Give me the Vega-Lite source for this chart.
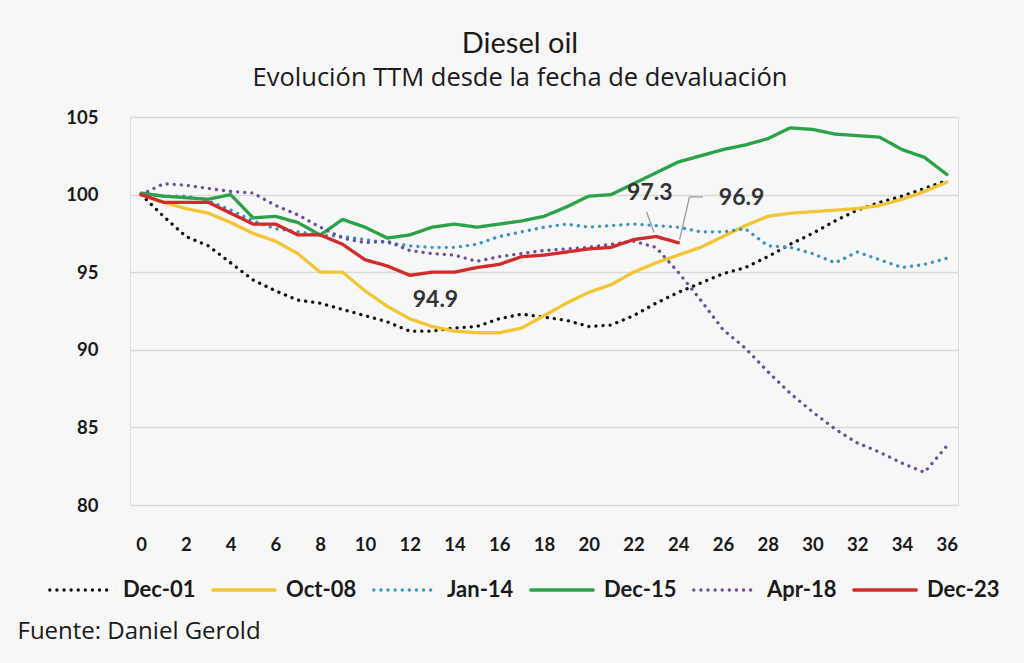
{
  "$schema": "https://vega.github.io/schema/vega-lite/v6.json",
  "width": 828,
  "height": 388,
  "autosize": {"type": "none"},
  "padding": {"left": 130, "top": 117, "right": 66, "bottom": 158},
  "background": "#f7f7f7",
  "title": {
    "text": "Diesel oil",
    "subtitle": "Evolución TTM desde la fecha de devaluación",
    "anchor": "middle",
    "frame": "group",
    "dx": -24,
    "offset": 17,
    "font": "Lato",
    "fontSize": 29,
    "fontWeight": "normal",
    "color": "#1a1a1a",
    "subtitleFont": "Open Sans",
    "subtitleFontSize": 25.5,
    "subtitleColor": "#1a1a1a",
    "subtitlePadding": 7
  },
  "datasets": {
    "series": [
      {"m": 0, "Dec-01": 100, "Oct-08": 100, "Jan-14": 100, "Dec-15": 100.1, "Apr-18": 100, "Dec-23": 100},
      {"m": 1, "Dec-01": 98.6, "Oct-08": 99.5, "Jan-14": 99.9, "Dec-15": 99.9, "Apr-18": 100.7, "Dec-23": 99.5},
      {"m": 2, "Dec-01": 97.3, "Oct-08": 99.1, "Jan-14": 99.9, "Dec-15": 99.8, "Apr-18": 100.6, "Dec-23": 99.5},
      {"m": 3, "Dec-01": 96.7, "Oct-08": 98.8, "Jan-14": 99.6, "Dec-15": 99.7, "Apr-18": 100.4, "Dec-23": 99.5},
      {"m": 4, "Dec-01": 95.6, "Oct-08": 98.2, "Jan-14": 99.0, "Dec-15": 100.0, "Apr-18": 100.2, "Dec-23": 98.8},
      {"m": 5, "Dec-01": 94.5, "Oct-08": 97.5, "Jan-14": 98.3, "Dec-15": 98.5, "Apr-18": 100.1, "Dec-23": 98.1},
      {"m": 6, "Dec-01": 93.8, "Oct-08": 97.0, "Jan-14": 97.8, "Dec-15": 98.6, "Apr-18": 99.3, "Dec-23": 98.1},
      {"m": 7, "Dec-01": 93.2, "Oct-08": 96.2, "Jan-14": 97.6, "Dec-15": 98.2, "Apr-18": 98.7, "Dec-23": 97.4},
      {"m": 8, "Dec-01": 93.0, "Oct-08": 95.0, "Jan-14": 97.4, "Dec-15": 97.4, "Apr-18": 97.9, "Dec-23": 97.4},
      {"m": 9, "Dec-01": 92.6, "Oct-08": 95.0, "Jan-14": 97.3, "Dec-15": 98.4, "Apr-18": 97.2, "Dec-23": 96.8},
      {"m": 10, "Dec-01": 92.2, "Oct-08": 93.8, "Jan-14": 97.1, "Dec-15": 97.9, "Apr-18": 96.9, "Dec-23": 95.8},
      {"m": 11, "Dec-01": 91.8, "Oct-08": 92.8, "Jan-14": 96.9, "Dec-15": 97.2, "Apr-18": 97.0, "Dec-23": 95.4},
      {"m": 12, "Dec-01": 91.2, "Oct-08": 92.0, "Jan-14": 96.7, "Dec-15": 97.4, "Apr-18": 96.4, "Dec-23": 94.8},
      {"m": 13, "Dec-01": 91.2, "Oct-08": 91.5, "Jan-14": 96.6, "Dec-15": 97.9, "Apr-18": 96.2, "Dec-23": 95.0},
      {"m": 14, "Dec-01": 91.4, "Oct-08": 91.2, "Jan-14": 96.6, "Dec-15": 98.1, "Apr-18": 96.1, "Dec-23": 95.0},
      {"m": 15, "Dec-01": 91.5, "Oct-08": 91.1, "Jan-14": 96.8, "Dec-15": 97.9, "Apr-18": 95.7, "Dec-23": 95.3},
      {"m": 16, "Dec-01": 92.0, "Oct-08": 91.1, "Jan-14": 97.3, "Dec-15": 98.1, "Apr-18": 96.0, "Dec-23": 95.5},
      {"m": 17, "Dec-01": 92.3, "Oct-08": 91.4, "Jan-14": 97.6, "Dec-15": 98.3, "Apr-18": 96.2, "Dec-23": 96.0},
      {"m": 18, "Dec-01": 92.1, "Oct-08": 92.2, "Jan-14": 97.9, "Dec-15": 98.6, "Apr-18": 96.4, "Dec-23": 96.1},
      {"m": 19, "Dec-01": 91.9, "Oct-08": 93.0, "Jan-14": 98.1, "Dec-15": 99.2, "Apr-18": 96.5, "Dec-23": 96.3},
      {"m": 20, "Dec-01": 91.5, "Oct-08": 93.7, "Jan-14": 97.9, "Dec-15": 99.9, "Apr-18": 96.6, "Dec-23": 96.5},
      {"m": 21, "Dec-01": 91.6, "Oct-08": 94.2, "Jan-14": 98.0, "Dec-15": 100.0, "Apr-18": 96.8, "Dec-23": 96.6},
      {"m": 22, "Dec-01": 92.2, "Oct-08": 95.0, "Jan-14": 98.1, "Dec-15": 100.7, "Apr-18": 97.0, "Dec-23": 97.1},
      {"m": 23, "Dec-01": 93.0, "Oct-08": 95.6, "Jan-14": 98.0, "Dec-15": 101.4, "Apr-18": 96.6, "Dec-23": 97.3},
      {"m": 24, "Dec-01": 93.7, "Oct-08": 96.1, "Jan-14": 97.9, "Dec-15": 102.1, "Apr-18": 95.0, "Dec-23": 96.9},
      {"m": 25, "Dec-01": 94.3, "Oct-08": 96.6, "Jan-14": 97.6, "Dec-15": 102.5, "Apr-18": 93.2},
      {"m": 26, "Dec-01": 94.9, "Oct-08": 97.3, "Jan-14": 97.6, "Dec-15": 102.9, "Apr-18": 91.3},
      {"m": 27, "Dec-01": 95.3, "Oct-08": 98.0, "Jan-14": 97.8, "Dec-15": 103.2, "Apr-18": 90.1},
      {"m": 28, "Dec-01": 96.0, "Oct-08": 98.6, "Jan-14": 96.7, "Dec-15": 103.6, "Apr-18": 88.6},
      {"m": 29, "Dec-01": 96.8, "Oct-08": 98.8, "Jan-14": 96.6, "Dec-15": 104.3, "Apr-18": 87.2},
      {"m": 30, "Dec-01": 97.5, "Oct-08": 98.9, "Jan-14": 96.2, "Dec-15": 104.2, "Apr-18": 86.0},
      {"m": 31, "Dec-01": 98.3, "Oct-08": 99.0, "Jan-14": 95.6, "Dec-15": 103.9, "Apr-18": 84.9},
      {"m": 32, "Dec-01": 99.0, "Oct-08": 99.1, "Jan-14": 96.3, "Dec-15": 103.8, "Apr-18": 84.0},
      {"m": 33, "Dec-01": 99.5, "Oct-08": 99.3, "Jan-14": 95.8, "Dec-15": 103.7, "Apr-18": 83.4},
      {"m": 34, "Dec-01": 99.9, "Oct-08": 99.7, "Jan-14": 95.3, "Dec-15": 102.9, "Apr-18": 82.7},
      {"m": 35, "Dec-01": 100.4, "Oct-08": 100.2, "Jan-14": 95.5, "Dec-15": 102.4, "Apr-18": 82.1},
      {"m": 36, "Dec-01": 100.9, "Oct-08": 100.8, "Jan-14": 95.9, "Dec-15": 101.3, "Apr-18": 83.8}
    ],
    "labels": [
      {"lx": 13.15, "ly": 93.2, "t": "94.9"},
      {"lx": 22.73, "ly": 100.1, "t": "97.3"},
      {"lx": 26.83, "ly": 99.8, "t": "96.9"}
    ],
    "leaders": [
      {"x1": 22.58, "y1": 98.9, "x2": 22.92, "y2": 97.55},
      {"x1": 24.06, "y1": 97.1, "x2": 24.5, "y2": 99.85},
      {"x1": 24.5, "y1": 99.85, "x2": 25.1, "y2": 99.85}
    ]
  },
  "layer": [
    {
      "data": {"name": "series"},
      "transform": [
        {"fold": ["Dec-01", "Oct-08", "Jan-14", "Dec-15", "Apr-18", "Dec-23"], "as": ["s", "v"]}
      ],
      "mark": {"type": "line", "strokeWidth": 3.3, "strokeCap": "round", "strokeJoin": "round"},
      "encoding": {
        "x": {
          "field": "m", "type": "quantitative",
          "scale": {"domain": [-0.5, 36.5], "nice": false, "zero": false},
          "axis": {
            "values": [0, 2, 4, 6, 8, 10, 12, 14, 16, 18, 20, 22, 24, 26, 28, 30, 32, 34, 36],
            "grid": false, "domain": false, "ticks": false,
            "labelFont": "Lato", "labelFontSize": 18.5, "labelFontWeight": "bold", "labelColor": "#1a1a1a",
            "labelPadding": 30, "labelAngle": 0,
            "title": "Fuente: Daniel Gerold",
            "titleFont": "Open Sans", "titleFontSize": 24, "titleFontWeight": "normal", "titleColor": "#1a1a1a",
            "titleAnchor": "start", "titleAlign": "left", "titleX": -113, "titleY": 126, "titleBaseline": "middle"
          }
        },
        "y": {
          "field": "v", "type": "quantitative",
          "scale": {"domain": [80, 105], "nice": false, "zero": false},
          "axis": {
            "values": [80, 85, 90, 95, 100, 105],
            "grid": true, "gridColor": "#d9d9d9", "gridWidth": 1.5,
            "domain": false, "ticks": false,
            "labelFont": "Lato", "labelFontSize": 18.5, "labelFontWeight": "bold", "labelColor": "#1a1a1a",
            "labelPadding": 32, "title": null
          }
        },
        "color": {
          "field": "s", "type": "nominal",
          "scale": {
            "domain": ["Dec-01", "Oct-08", "Jan-14", "Dec-15", "Apr-18", "Dec-23"],
            "range": ["#111111", "#f2c537", "#3a94c8", "#2ca24a", "#6b4fa0", "#d22b2b"]
          },
          "legend": {
            "title": null, "orient": "none", "legendX": -82, "legendY": 440,
            "direction": "horizontal", "columns": 6,
            "symbolType": "stroke", "symbolSize": 3900, "symbolStrokeWidth": 3.3,
            "labelFont": "Lato", "labelFontSize": 22, "labelFontWeight": "bold", "labelColor": "#1a1a1a",
            "labelOffset": 9, "columnPadding": 10,
            "encode": {"symbols": {"update": {"strokeCap": {"value": "round"}}}}
          }
        },
        "strokeDash": {
          "field": "s", "type": "nominal",
          "scale": {
            "domain": ["Dec-01", "Oct-08", "Jan-14", "Dec-15", "Apr-18", "Dec-23"],
            "range": [[0.1, 7], [1, 0], [0.1, 7], [1, 0], [0.1, 7], [1, 0]]
          },
          "legend": {
            "title": null, "orient": "none", "legendX": -82, "legendY": 440,
            "direction": "horizontal", "columns": 6,
            "symbolType": "stroke", "symbolSize": 3900, "symbolStrokeWidth": 3.3,
            "labelFont": "Lato", "labelFontSize": 22, "labelFontWeight": "bold", "labelColor": "#1a1a1a",
            "labelOffset": 9, "columnPadding": 10,
            "encode": {"symbols": {"update": {"strokeCap": {"value": "round"}}}}
          }
        }
      }
    },
    {
      "data": {"name": "leaders"},
      "mark": {"type": "rule", "color": "#9a9a9a", "strokeWidth": 1.3},
      "encoding": {
        "x": {"field": "x1", "type": "quantitative"},
        "y": {"field": "y1", "type": "quantitative"},
        "x2": {"field": "x2"},
        "y2": {"field": "y2"}
      }
    },
    {
      "data": {"name": "labels"},
      "mark": {"type": "text", "font": "Lato", "fontSize": 23, "fontWeight": "bold", "color": "#333333", "align": "center", "baseline": "middle"},
      "encoding": {
        "x": {"field": "lx", "type": "quantitative"},
        "y": {"field": "ly", "type": "quantitative"},
        "text": {"field": "t"}
      }
    }
  ]
}
